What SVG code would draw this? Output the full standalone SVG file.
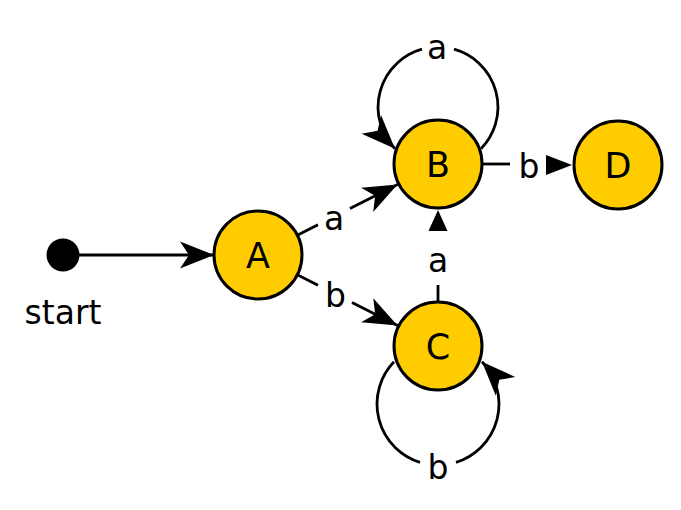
<svg xmlns="http://www.w3.org/2000/svg" width="681" height="510" viewBox="0 0 681 510">
  <style>
    .node circle { fill: #FFCC00; stroke: #000; stroke-width: 3; }
    .nlabel { font-family: "DejaVu Sans", "Liberation Sans", sans-serif; font-size: 35px; fill: #000; text-anchor: middle; }
    .elabel { font-family: "DejaVu Sans", "Liberation Sans", sans-serif; font-size: 33px; fill: #000; text-anchor: middle; }
    .edge { fill: none; stroke: #000; stroke-width: 2.8; }
    .arrow { marker-end: url(#classic); }
  </style>
  <defs>
    <marker id="classic" markerUnits="userSpaceOnUse" viewBox="-36 -15 40 30" markerWidth="40" markerHeight="30" refX="0" refY="0" orient="auto">
      <path d="M0,0 L-34,-13.5 L-25,0 L-34,13.5 Z" fill="#000"/>
    </marker>
  </defs>

  <g id="connectors">
    <!-- start -> A -->
    <path class="edge arrow" d="M79,255 L214,255"/>
    <!-- A -> B (a) -->
    <path class="edge" d="M297.3,235.2 L318,224.7"/>
    <path class="edge arrow" d="M350,208.5 L397.5,184.6"/>
    <text class="elabel" x="334" y="230">a</text>
    <!-- A -> C (b) -->
    <path class="edge" d="M297.3,274.8 L318,285.3"/>
    <path class="edge arrow" d="M352,302.5 L397.5,325.6"/>
    <text class="elabel" x="335.5" y="307">b</text>
    <!-- B loop (a) -->
    <path class="edge" d="M481,148.8 A60,60 0 0 0 454,49.2"/>
    <path class="edge arrow" d="M422,49.2 A60,60 0 0 0 395,148.8"/>
    <text class="elabel" x="437" y="59">a</text>
    <!-- C loop (b) -->
    <path class="edge" d="M394,361.8 A61,61 0 0 0 420,462.3"/>
    <path class="edge arrow" d="M456,462.3 A61,61 0 0 0 482,361.8"/>
    <text class="elabel" x="438" y="479">b</text>
    <!-- C -> B (a) -->
    <path class="edge" d="M438,285 L438,302"/>
    <polygon points="438,210 447.5,231 428.5,231" fill="#000"/>
    <text class="elabel" x="438" y="272">a</text>
    <!-- B -> D (b) -->
    <path class="edge" d="M482,164 L510,164"/>
    <polygon points="572,165 546,155 546,175" fill="#000"/>
    <text class="elabel" x="529" y="178">b</text>
  </g>

  <g id="start">
    <circle cx="63" cy="255" r="16.5" fill="#000"/>
    <text class="elabel" x="63" y="324" font-size="34">start</text>
  </g>
  <g id="A" class="node">
    <circle cx="258" cy="255" r="44"/>
    <text class="nlabel" x="258" y="268">A</text>
  </g>
  <g id="B" class="node">
    <circle cx="438" cy="164" r="44"/>
    <text class="nlabel" x="438" y="177">B</text>
  </g>
  <g id="C" class="node">
    <circle cx="438" cy="346" r="44"/>
    <text class="nlabel" x="438" y="359">C</text>
  </g>
  <g id="D" class="node">
    <circle cx="618" cy="165" r="44"/>
    <text class="nlabel" x="618" y="178">D</text>
  </g>
</svg>
